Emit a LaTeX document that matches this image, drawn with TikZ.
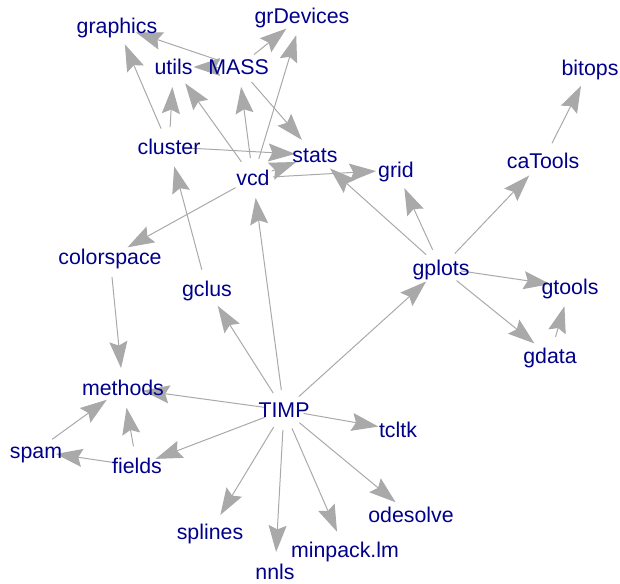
\documentclass[tikz,border=0pt]{standalone}
\usepackage{fontspec}
\setmainfont{Liberation Sans}
\usetikzlibrary{arrows.meta,backgrounds}

\tikzset{every picture/.style={line width=0.75pt}}

\begin{document}
\begin{tikzpicture}[x=0.75pt,y=0.75pt,yscale=-1,xscale=1,
  pkg/.style={inner sep=0pt, text={rgb,255:red,0;green,0;blue,139}, font=\fontsize{16pt}{19pt}\selectfont, text height=13.5pt, text depth=3pt},
  dep/.style={draw={rgb,255:red,169;green,169;blue,169}, line width=0.75pt, -{Stealth[length=20pt,width=13.5pt,inset=3pt]}, shorten <=15pt, shorten >=15pt}]
        %set diagram size
        \useasboundingbox (0,0) rectangle (620,583);

        % Text Nodes
        \node [pkg] (graphics) at (117,26) {graphics};
        \node [pkg] (grDevices) at (302,16) {grDevices};
        \node [pkg] (utils) at (173.5,67) {utils};
        \node [pkg] (MASS) at (238.5,67) {MASS};
        \node [pkg] (bitops) at (590,68) {bitops};
        \node [pkg] (cluster) at (169,147) {cluster};
        \node [pkg] (stats) at (315,155) {stats};
        \node [pkg] (vcd) at (253,178) {vcd};
        \node [pkg] (grid) at (396,170) {grid};
        \node [pkg] (caTools) at (543,161) {caTools};
        \node [pkg] (colorspace) at (110,257) {colorspace};
        \node [pkg] (gplots) at (441,268) {gplots};
        \node [pkg] (gclus) at (207,289) {gclus};
        \node [pkg] (gtools) at (570,287) {gtools};
        \node [pkg] (gdata) at (550,356) {gdata};
        \node [pkg] (methods) at (123,388) {methods};
        \node [pkg] (TIMP) at (284,410) {TIMP};
        \node [pkg] (tcltk) at (398,430) {tcltk};
        \node [pkg] (spam) at (36,451) {spam};
        \node [pkg] (fields) at (137,466) {fields};
        \node [pkg] (odesolve) at (411,515) {odesolve};
        \node [pkg] (splines) at (210,532) {splines};
        \node [pkg] (minpack) at (345,550) {minpack.lm};
        \node [pkg] (nnls) at (275,572) {nnls};

        % Dependency arrows (under the labels)
        \begin{pgfonlayer}{background}
        \foreach \from/\to in {MASS/graphics, MASS/utils, MASS/grDevices, MASS/stats,
            cluster/graphics, cluster/utils, cluster/stats,
            vcd/utils, vcd/MASS, vcd/grDevices, vcd/stats, vcd/grid, vcd/colorspace,
            gplots/stats, gplots/grid, gplots/caTools, gplots/gtools, gplots/gdata,
            caTools/bitops, gdata/gtools, gclus/cluster, colorspace/methods,
            TIMP/gclus, TIMP/vcd, TIMP/gplots, TIMP/methods, TIMP/fields, TIMP/tcltk,
            TIMP/splines, TIMP/nnls, TIMP/minpack, TIMP/odesolve,
            fields/methods, fields/spam, spam/methods}
          \draw [dep] (\from.center) -- (\to.center);
        \end{pgfonlayer}
\end{tikzpicture}
\end{document}
